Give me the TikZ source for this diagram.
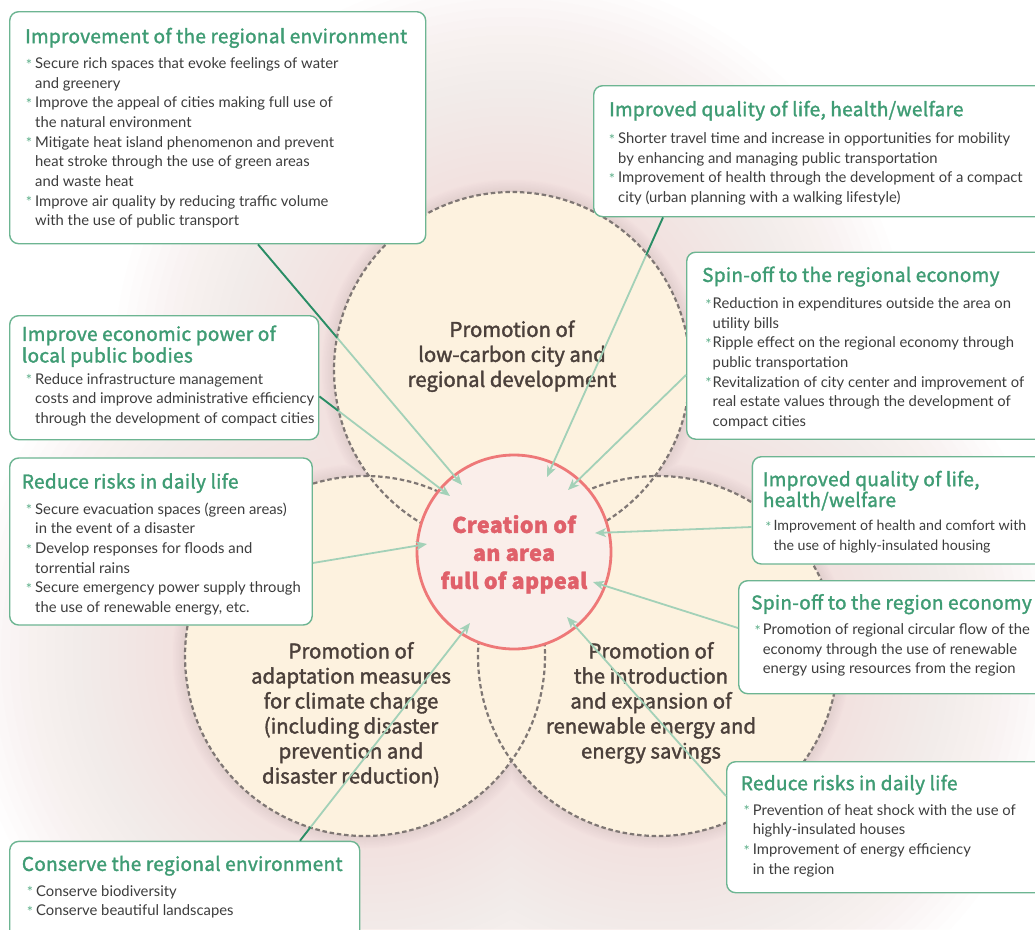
\documentclass[tikz,border=0pt]{standalone}
\usepackage{fontspec}
\setmainfont{Lato}
\newfontfamily\ttlfont{Noto Sans CJK JP}[FakeBold=1.6, LetterSpace=1.6]
\newfontfamily\circfont{Noto Sans CJK JP}[FakeBold=1.8]
\usetikzlibrary{arrows.meta,calc}
\definecolor{ttlgreen}{HTML}{3F9C74}
\definecolor{boxgreen}{HTML}{6DB592}
\definecolor{bulgreen}{HTML}{5BAE88}
\definecolor{bodygray}{HTML}{3D3D3D}
\definecolor{redc}{HTML}{EE7878}
\definecolor{redtext}{HTML}{E0606A}
\definecolor{pinkfill}{HTML}{FAEEEA}
\definecolor{cream}{HTML}{FDF2DF}
\definecolor{dashc}{HTML}{7F7774}
\definecolor{lightg}{HTML}{A3D1B8}
\definecolor{darkg}{HTML}{2A8C65}
\definecolor{glowc}{HTML}{F2DDD8}
\definecolor{rimc}{HTML}{C0A8AE}
\definecolor{ctextc}{HTML}{4B403B}
\newcommand{\bs}{\rule{0pt}{13pt}}
\newcommand{\ts}{\rule{0pt}{17pt}}
\newcommand{\bl}[1][3pt]{\makebox[0pt][r]{\raisebox{-1.5pt}{\textcolor{bulgreen}{*}}\hspace{#1}}}
\tikzset{
  boxshape/.style={draw=boxgreen, line width=1.4pt, fill=white, rounded corners=9pt, anchor=north west, inner sep=0pt},
  ttl/.style={anchor=north west, inner sep=0pt, align=left, text=ttlgreen, font=\ttlfont\fontsize{19}{21.6}\selectfont},
  body/.style={anchor=north west, inner sep=0pt, align=left, text=bodygray, font=\fontsize{14.8}{19.67}\selectfont},
  conn/.style={draw=lightg, line width=1.8pt, -{Stealth[length=11pt,width=9pt,inset=3pt]}},
  darkseg/.style={draw=darkg, line width=1.8pt},
  bigc/.style={circle, fill=cream, inner sep=0pt},
  dashring/.style={draw=dashc, line width=2.2pt, dash pattern=on 4.5pt off 2.8pt},
  ctext/.style={anchor=north, inner sep=0pt, align=center, text=ctextc, font=\circfont\fontsize{20.3}{25}\selectfont},
}
\begin{document}
\begin{tikzpicture}[x=1pt,y=-1pt]
\useasboundingbox (0,0) rectangle (1035,929);
\clip (0,0) rectangle (1035,929);
\fill[white] (0,0) rectangle (1035,929);
\coordinate (c1) at (512,370);
\coordinate (c2) at (365,656);
\coordinate (c3) at (658,656);
% broad glow
\foreach \k in {0,...,24} {
  \fill[glowc, opacity=0.045] (c1) circle ({178+220-9*\k}) (c2) circle ({180+220-9*\k}) (c3) circle ({180+220-9*\k});
}
% narrow rim shadow
\foreach \k in {0,...,7} {
  \fill[rimc, opacity=0.035] (c1) circle ({178+12-1.5*\k}) (c2) circle ({180+12-1.5*\k}) (c3) circle ({180+12-1.5*\k});
}
% circles
\node[bigc, minimum size=356pt] (topc) at (c1) {};
\node[bigc, minimum size=360pt] (leftc) at (c2) {};
\node[bigc, minimum size=360pt] (rightc) at (c3) {};
\draw[dashring] (c1) circle (178);
\draw[dashring] (c2) circle (180);
\draw[dashring] (c3) circle (180);
% centre
\node[circle, draw=redc, line width=2.8pt, fill=pinkfill, minimum size=194pt, inner sep=0pt] (ctr) at (514,552) {};
% circle texts
\node[ctext] (ttop) at (512,319.7) {\ts Promotion of\\low-carbon city and\\regional development};
\node[ctext] (tleft) at (351,641.3) {\ts Promotion of\\adaptation measures\\for climate change\\(including disaster\\prevention and\\disaster reduction)};
\node[ctext] (tright) at (651,641.3) {\ts Promotion of\\the introduction\\and expansion of\\renewable energy and\\energy savings};
% boxes
\node[boxshape, minimum width=416pt, minimum height=232pt] (b1) at (9,11) {};
\node[boxshape, minimum width=460pt, minimum height=131pt] (b2) at (593,85) {};
\node[boxshape, minimum width=360pt, minimum height=187pt] (b3) at (686,251.5) {};
\node[boxshape, minimum width=309pt, minimum height=124pt] (b4) at (9,315) {};
\node[boxshape, minimum width=302.5pt, minimum height=167pt] (b5) at (9,457.3) {};
\node[boxshape, minimum width=300pt, minimum height=107.3pt] (b6) at (751.7,456) {};
\node[boxshape, minimum width=310pt, minimum height=113pt] (b7) at (738,580) {};
\node[boxshape, minimum width=320pt, minimum height=131pt] (b8) at (726,761) {};
\node[boxshape, minimum width=350pt, minimum height=100pt] (b9) at (9,840.7) {};
% connector ends
\coordinate (s1) at ($(b1.south west)+(249,0)$);
\coordinate (s2) at ($(b4.south east)+(0,-44)$);
\coordinate (s3) at ($(b2.south west)+(70,0)$);
\coordinate (s4) at ($(b3.north west)+(0,123.5)$);
\coordinate (s5) at ($(b5.north east)+(0,105.7)$);
\coordinate (s6) at ($(b6.north west)+(0,71)$);
\coordinate (s7) at ($(b7.north west)+(0,48)$);
\coordinate (s8) at ($(b8.north west)+(0,35)$);
\coordinate (s9) at ($(b9.north west)+(291,0)$);
\coordinate (t1) at (462,485);
\coordinate (t2) at (450,496);
\coordinate (t3) at (547,477);
\coordinate (t4) at (568,490);
\coordinate (t5) at (427,544);
\coordinate (t6) at (595,533);
\coordinate (t7) at (593,582);
\coordinate (t8) at (567,617);
\coordinate (t9) at (470,623);
\foreach \i in {1,...,9} { \draw[conn] (s\i) -- (t\i); }
\draw[darkseg] (s1) -- ($(s1)!0.388!(t1)$);
\draw[darkseg] (s2) -- ($(s2)!0.144!(t2)$);
\draw[darkseg] (s3) -- ($(s3)!0.145!(t3)$);
\draw[darkseg] (s9) -- ($(s9)!0.062!(t9)$);
% centre text
\node[anchor=north, inner sep=0pt, align=center, text=redtext, font=\ttlfont\bfseries\fontsize{21.5}{28}\selectfont] (ctrtext) at (514,513.7) {\rule{0pt}{19pt}Creation of\\an area\\full of appeal};
% box texts
\node[ttl] (h1) at (25,26) {\ts Improvement of the regional environment};
\node[body] (x1) at (35,55.3) {\bs\bl Secure rich spaces that evoke feelings of water\\and greenery\\\bl Improve the appeal of cities making full use of\\the natural environment\\\bl Mitigate heat island phenomenon and prevent\\heat stroke through the use of green areas\\and waste heat\\\bl Improve air quality by reducing traffic volume\\with the use of public transport};
\node[ttl] (h2) at (609,99) {\ts Improved quality of life, health/welfare};
\node[body] (x2) at (618,130.3) {\bs\bl Shorter travel time and increase in opportunities for mobility\\by enhancing and managing public transportation\\\bl Improvement of health through the development of a compact\\city (urban planning with a walking lifestyle)};
\node[ttl] (h3) at (702,264.7) {\ts Spin-off to the regional economy};
\node[body] (x3) at (712.5,295.3) {\bs\bl[1pt]Reduction in expenditures outside the area on\\utility bills\\\bl[1pt]Ripple effect on the regional economy through\\public transportation\\\bl[1pt]Revitalization of city center and improvement of\\real estate values through the development of\\compact cities};
\node[ttl] (h4) at (21.7,323.7) {\ts Improve economic power of\\local public bodies};
\node[body] (x4) at (35,371) {\bs\bl Reduce infrastructure management\\costs and improve administrative efficiency\\through the development of compact cities};
\node[ttl] (h5) at (21.7,471.3) {\ts Reduce risks in daily life};
\node[body] (x5) at (35,501) {\bs\bl Secure evacuation spaces (green areas)\\in the event of a disaster\\\bl Develop responses for floods and\\torrential rains\\\bl Secure emergency power supply through\\the use of renewable energy, etc.};
\node[ttl, font=\ttlfont\fontsize{19}{18.3}\selectfont] (h6) at (762.7,469) {\ts Improved quality of life,\\health/welfare};
\node[body, font=\fontsize{14.2}{19.67}\selectfont] (x6) at (773.3,517.7) {\bs\bl[2pt]Improvement of health and comfort with\\the use of highly-insulated housing};
\node[ttl] (h7) at (751,592.3) {\ts Spin-off to the region economy};
\node[body] (x7) at (762.7,621.3) {\bs\bl[2pt]Promotion of regional circular flow of the\\economy through the use of renewable\\energy using resources from the region};
\node[ttl] (h8) at (740.7,773) {\ts Reduce risks in daily life};
\node[body] (x8) at (752.7,802) {\bs\bl Prevention of heat shock with the use of\\highly-insulated houses\\\bl Improvement of energy efficiency\\in the region};
\node[ttl] (h9) at (21.7,853.7) {\ts Conserve the regional environment};
\node[body] (x9) at (36,883) {\bs\bl Conserve biodiversity\\\bl Conserve beautiful landscapes};
\end{tikzpicture}
\end{document}
